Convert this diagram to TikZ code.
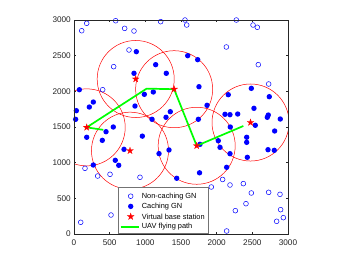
\documentclass[tikz,border=0pt]{standalone}
\usepackage{fontspec}
\setmainfont{Liberation Sans}
\usetikzlibrary{shapes.geometric}
\definecolor{mgreen}{RGB}{0,255,0}
\definecolor{axgray}{gray}{0.15}
\begin{document}
\begin{tikzpicture}[
  ncgn/.style={circle, draw=blue, line width=0.5bp, inner sep=0pt, minimum size=4.8bp},
  cgn/.style={circle, fill=blue, inner sep=0pt, minimum size=5.4bp},
  vbs/.style={star, star points=5, star point ratio=2.6, fill=red, draw=red, line width=0.2bp, inner sep=0pt, minimum size=7.2bp},
  cov/.style={draw=red, line width=0.5bp},
  uav/.style={draw=mgreen, line width=1.7bp},
  ticklab/.style={font=\fontsize{8.2bp}{10bp}\selectfont, text=axgray, inner sep=0pt},
  leglab/.style={font=\fontsize{7.4bp}{9bp}\selectfont, text=black, anchor=west, inner sep=0pt},
  axline/.style={draw=axgray, line width=0.5bp},
  legbox/.style={draw=black!55, fill=white, line width=0.5bp},
]
\useasboundingbox (0,0) rectangle (350bp,263bp);
\fill[white] (0,0) rectangle (350bp,263bp);
\begin{scope}[shift={(74bp,29bp)}, x=0.07133bp, y=0.07133bp]
  % coverage circles (clipped to axes)
  \begin{scope}
    \clip (0,0) rectangle (3000,3000);
    \foreach \x/\y in {178/1495, 865/2173, 1404/2030, 785/1168, 1720/1237, 2475/1563}
      \draw[cov] (\x,\y) circle[radius=540];
  \end{scope}
  % non-caching GNs
  \foreach \x/\y [count=\i] in {108/2850, 178/2954, 584/2990, 710/2883, 841/2846, 1215/2977, 771/2580, 556/2346, 402/2023, 154/921, 332/813, 505/837, 925/795, 519/266, 94/164, 1556/3000, 1580/2930, 2276/3000, 2510/2930, 2570/2898, 2136/2622, 2584/2374, 2729/2103, 1925/659, 2084/765, 2187/687, 2374/706, 2486/575, 2729/584, 2888/556, 2411/425, 2262/327, 2897/341, 2935/229, 2841/178, 2140/42}
    \node[ncgn] (nc\i) at (\x,\y) {};
  % caching GNs
  \foreach \x/\y [count=\i] in {874/2556, 1145/2374, 1294/2253, 841/2253, 75/2023, 986/1958, 1112/1991, 271/1850, 215/1780, 855/1794, 33/1729, 23/1608, 1094/1608, 1350/1715, 1290/1636, 551/1500, 449/1434, 958/1372, 178/1356, 397/1313, 701/1187, 579/1033, 627/963, 271/967, 1192/1127, 1332/1178, 1440/781, 1594/2500, 1734/2444, 1752/2065, 2486/2042, 2163/1953, 2738/1925, 1865/1804, 2523/1762, 2117/1678, 2187/1673, 2295/1682, 2724/1668, 2710/1636, 2892/1612, 1743/1608, 2191/1500, 2542/1524, 2813/1444, 2421/1356, 2421/1285, 2023/1308, 2047/1215, 2187/1126, 2430/1075, 2720/1182, 2808/1173, 2140/935, 1760/858, 1766/1257}
    \node[cgn] (cg\i) at (\x,\y) {};
  % UAV path
  \coordinate (pA) at (410,1460);
  \coordinate (pC) at (1018,2038);
  \coordinate (pF) at (2374,1514);
  \coordinate (v1) at (178,1495);
  \coordinate (v2) at (865,2173);
  \coordinate (v3) at (1404,2030);
  \coordinate (v4) at (785,1168);
  \coordinate (v5) at (1720,1237);
  \coordinate (v6) at (2475,1563);
  \draw[uav] (pA) -- (v1) -- (pC) -- (v3) -- (v5) -- (pF);
  % virtual base stations
  \foreach \i in {1,...,6}
    \node[vbs] (s\i) at (v\i) {};
  % axes box and ticks
  \draw[axline] (0,0) rectangle (3000,3000);
  \foreach \t in {0,500,...,3000} {
    \draw[axline] (\t,0) -- ++(0,30);
    \draw[axline] (\t,3000) -- ++(0,-30);
    \draw[axline] (0,\t) -- ++(30,0);
    \draw[axline] (3000,\t) -- ++(-30,0);
    \node[ticklab, anchor=base] (xl\t) at (\t,-157) {\t};
    \node[ticklab, anchor=east] (yl\t) at (-42,\t) {\t};
  }
\end{scope}
% legend
\draw[legbox] (118.3bp,29.7bp) rectangle (208.3bp,75.7bp);
\node[ncgn] (lg1) at (130.7bp,66.8bp) {};
\node[leglab] (lt1) at (141.7bp,66.8bp) {Non-caching GN};
\node[cgn] (lg2) at (130.7bp,56.6bp) {};
\node[leglab] (lt2) at (141.7bp,56.6bp) {Caching GN};
\node[vbs] (lg3) at (130.7bp,46.4bp) {};
\node[leglab] (lt3) at (141.7bp,46.4bp) {Virtual base station};
\coordinate (lga) at (120.7bp,36.2bp);
\coordinate (lgb) at (139.3bp,36.2bp);
\draw[uav] (lga) -- (lgb);
\node[leglab] (lt4) at (141.7bp,36.2bp) {UAV flying path};
\end{tikzpicture}
\end{document}
